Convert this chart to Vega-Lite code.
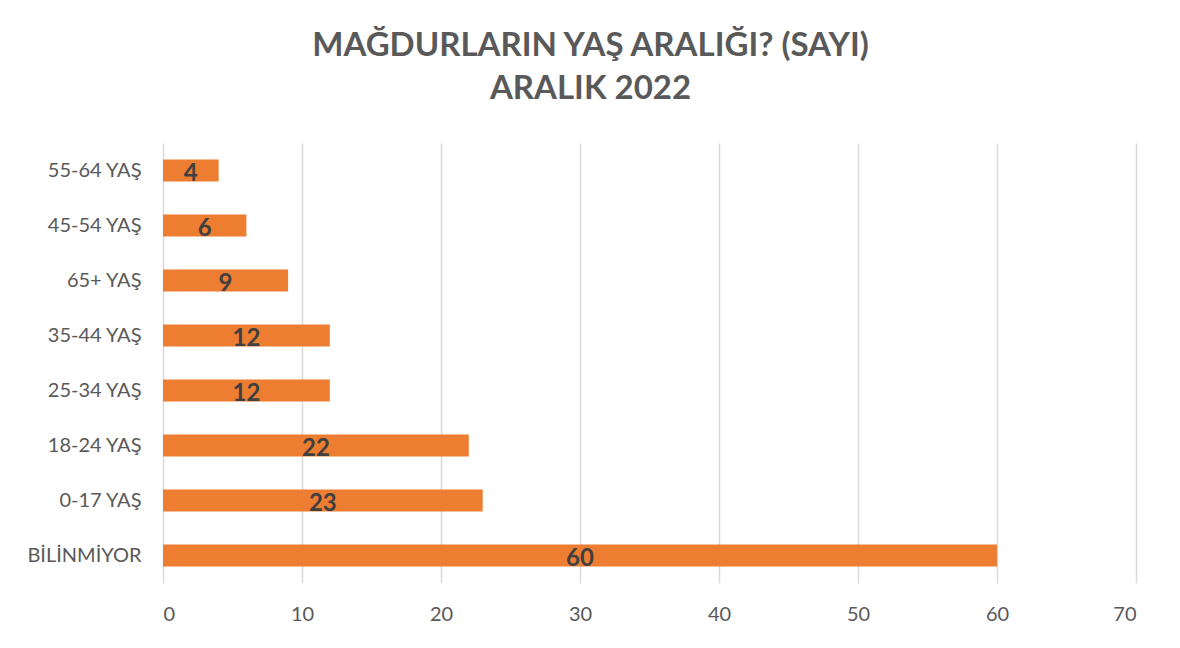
{
  "$schema": "https://vega.github.io/schema/vega-lite/v6.json",
  "autosize": "none",
  "width": 973,
  "height": 440,
  "padding": {"left": 163, "top": 143, "right": 44, "bottom": 65},
  "background": "white",
  "title": {
    "text": ["MAĞDURLARIN YAŞ ARALIĞI? (SAYI)", "ARALIK 2022"],
    "font": "Lato",
    "fontSize": 33,
    "fontWeight": "bold",
    "color": "#595959",
    "anchor": "middle",
    "frame": "group",
    "dx": -59,
    "offset": 37,
    "lineHeight": 43
  },
  "data": {
    "values": [
      {"age": "55-64 YAŞ", "count": 4},
      {"age": "45-54 YAŞ", "count": 6},
      {"age": "65+ YAŞ", "count": 9},
      {"age": "35-44 YAŞ", "count": 12},
      {"age": "25-34 YAŞ", "count": 12},
      {"age": "18-24 YAŞ", "count": 22},
      {"age": "0-17 YAŞ", "count": 23},
      {"age": "BİLİNMİYOR", "count": 60}
    ]
  },
  "config": {
    "view": {"stroke": null},
    "axis": {
      "labelFont": "Lato",
      "labelFontSize": 20,
      "labelColor": "#595959",
      "domain": false,
      "ticks": false,
      "title": null
    }
  },
  "encoding": {
    "y": {
      "field": "age",
      "type": "nominal",
      "sort": ["55-64 YAŞ", "45-54 YAŞ", "65+ YAŞ", "35-44 YAŞ", "25-34 YAŞ", "18-24 YAŞ", "0-17 YAŞ", "BİLİNMİYOR"],
      "scale": {"paddingInner": 0.6, "paddingOuter": 0.3},
      "axis": {"labelPadding": 22, "grid": false}
    }
  },
  "layer": [
    {
      "mark": {"type": "bar", "color": "#ED7D31"},
      "encoding": {
        "x": {
          "field": "count",
          "type": "quantitative",
          "scale": {"domain": [0, 70], "nice": false},
          "axis": {"values": [0, 10, 20, 30, 40, 50, 60, 70], "grid": true, "gridColor": "#D9D9D9", "gridWidth": 1.5, "labelPadding": 21}
        }
      }
    },
    {
      "transform": [{"calculate": "datum.count / 2", "as": "mid"}],
      "mark": {"type": "text", "font": "Lato", "fontSize": 24, "fontWeight": "bold", "color": "#404040", "dy": 3},
      "encoding": {
        "x": {"field": "mid", "type": "quantitative"},
        "text": {"field": "count", "type": "quantitative"}
      }
    }
  ]
}
